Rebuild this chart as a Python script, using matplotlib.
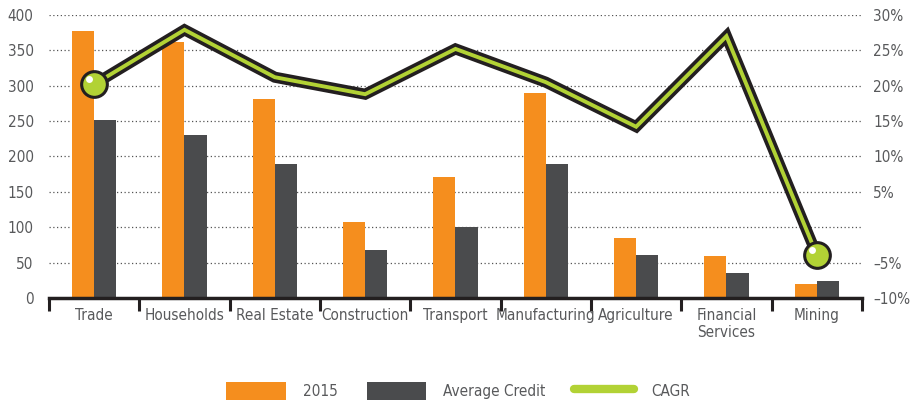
import numpy as np
import matplotlib
matplotlib.use("Agg")
import matplotlib.pyplot as plt
import matplotlib.patheffects as pe
import matplotlib.transforms as mtransforms
from matplotlib import font_manager
from matplotlib.patches import Patch
from matplotlib.lines import Line2D

# narrow font if one is installed, otherwise condensed DejaVu / Roboto
names = {f.name for f in font_manager.fontManager.ttflist}
cond = [f for f in font_manager.fontManager.ttflist
        if f.name == 'DejaVu Sans' and 'condensed' in str(f.stretch)]
if 'Liberation Sans Narrow' in names:
    plt.rcParams['font.family'] = ['Liberation Sans Narrow', 'DejaVu Sans']
elif cond:
    plt.rcParams['font.family'] = ['DejaVu Sans']
    plt.rcParams['font.stretch'] = 'condensed'
else:
    plt.rcParams['font.family'] = ['Roboto', 'DejaVu Sans']

categories = ['Trade', 'Households', 'Real Estate', 'Construction', 'Transport',
              'Manufacturing', 'Agriculture', 'Financial\nServices', 'Mining']
credit_2015 = [377, 362, 281, 107, 171, 290, 85, 59, 20]
avg_credit = [251, 230, 189, 68, 100, 189, 61, 35, 24]
cagr = [20.2, 27.9, 21.2, 18.8, 25.2, 20.5, 14.2, 27.0, -3.9]

left_ticks = [0, 50, 100, 150, 200, 250, 300, 350, 400]
right_ticks = [-10, -5, 5, 10, 15, 20, 25, 30]

orange = '#F58E1E'
dark = '#4A4B4D'
green = '#B2D235'
black = '#231F20'
text_col = '#58595B'
fs = 11

fig = plt.figure(figsize=(9.16, 4.04), dpi=100)
ax = fig.add_axes([0.0535, 0.2624, 0.8875, 0.7006])

x = np.arange(len(categories))
w = 0.245
ax.bar(x - w / 2, credit_2015, w, color=orange, zorder=2)
ax.bar(x + w / 2, avg_credit, w, color=dark, zorder=2)

ax.set_xlim(-0.5, len(categories) - 0.5)
ax.set_ylim(0, 400)
ax.set_yticks(left_ticks)
ax.yaxis.grid(True, linestyle=(0, (1, 2)), color='#555555', linewidth=0.9, zorder=0)
ax.tick_params(axis='y', length=0, labelsize=fs, labelcolor=text_col, pad=11)
ax.set_xticks(np.arange(-0.5, len(categories)), labels=[''] * (len(categories) + 1))
ax.tick_params(axis='x', which='major', direction='out', length=9, width=2.2, color=black)
ax.set_xticks(x, minor=True)
ax.set_xticklabels(categories, minor=True)
ax.tick_params(axis='x', which='minor', length=0, labelsize=fs, labelcolor=text_col, pad=7)
for s in ['top', 'right', 'left']:
    ax.spines[s].set_visible(False)
ax.spines['bottom'].set_linewidth(2.5)
ax.spines['bottom'].set_color(black)

ax2 = ax.twinx()
ax2.set_ylim(-10, 30)
ax2.set_yticks(right_ticks, labels=[f'{t}%'.replace('-', '\u2013') for t in right_ticks])
ax2.tick_params(axis='y', length=0, labelsize=fs, labelcolor=text_col, pad=8)
for s in ['top', 'right', 'left', 'bottom']:
    ax2.spines[s].set_visible(False)

ax2.plot(x, cagr, color=green, linewidth=2.8, solid_joinstyle='miter', zorder=3,
         path_effects=[pe.Stroke(linewidth=8, foreground=black), pe.Normal()])
ends = [0, len(categories) - 1]
ax2.plot(x[ends], [cagr[i] for i in ends], linestyle='none', marker='o', markersize=18.5,
         markerfacecolor=green, markeredgecolor=black, markeredgewidth=2.2, zorder=4)
hl = mtransforms.offset_copy(ax2.transData, fig=fig, x=-3.5, y=3.5, units='points')
ax2.plot(x[ends], [cagr[i] for i in ends], linestyle='none', marker='o', markersize=5,
         markerfacecolor='white', markeredgecolor='none', transform=hl, zorder=5)

handles = [Patch(facecolor=orange), Patch(facecolor=dark),
           Line2D([0], [0], color=green, linewidth=6, solid_capstyle='round')]
fig.legend(handles, ['2015', 'Average Credit', 'CAGR'], loc='lower center', ncol=3,
           frameon=False, fontsize=fs, labelcolor=text_col, handlelength=3.9,
           handleheight=1.45, handletextpad=1.1, columnspacing=1.9,
           bbox_to_anchor=(0.5, -0.025))

fig.savefig('out.png', dpi=100)
